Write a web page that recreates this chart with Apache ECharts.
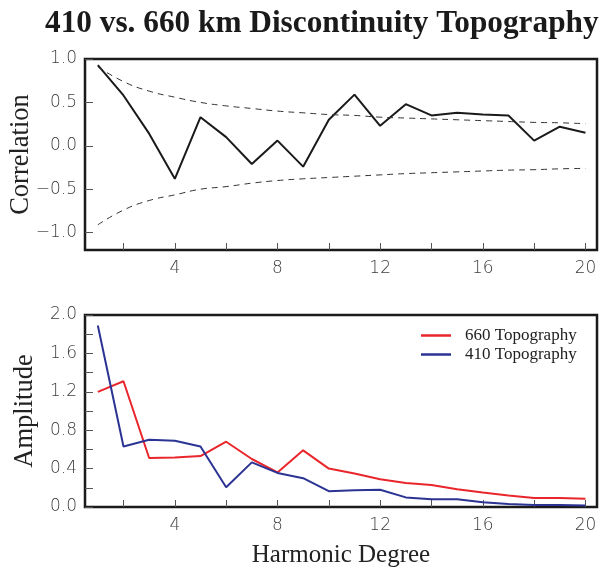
<!DOCTYPE html>
<html>
<head>
<meta charset="utf-8">
<script src="https://cdn.jsdelivr.net/npm/echarts@6/dist/echarts.min.js"></script>
<style>
html,body{margin:0;padding:0;background:#fff;}
#chart{width:609px;height:570px;}
</style>
</head>
<body>
<div id="chart"></div>
<script>
const degrees = [1,2,3,4,5,6,7,8,9,10,11,12,13,14,15,16,17,18,19,20];
const correlation = [0.93,0.58,0.14,-0.38,0.33,0.10,-0.21,0.06,-0.24,0.30,0.59,0.23,0.48,0.35,0.38,0.36,0.35,0.06,0.22,0.15];
const sigUpper = [0.91,0.74,0.63,0.56,0.50,0.46,0.43,0.40,0.38,0.36,0.35,0.33,0.32,0.31,0.30,0.29,0.28,0.27,0.265,0.255];
const sigLower = [-0.91,-0.74,-0.63,-0.565,-0.50,-0.47,-0.43,-0.40,-0.38,-0.365,-0.35,-0.335,-0.32,-0.31,-0.30,-0.29,-0.28,-0.275,-0.265,-0.26];
const amp660 = [1.20,1.31,0.51,0.515,0.53,0.68,0.50,0.36,0.59,0.40,0.35,0.29,0.25,0.23,0.185,0.15,0.12,0.095,0.095,0.085];
const amp410 = [1.89,0.63,0.70,0.69,0.63,0.205,0.465,0.355,0.30,0.165,0.175,0.18,0.10,0.08,0.08,0.05,0.03,0.02,0.022,0.015];
const xTicks = [2,4,6,8,10,12,14,16,18,20];
const xLabels = [4,8,12,16,20];
const corrTicks = [-1.0,-0.5,0.0,0.5,1.0];
const ampTicks = [0.0,0.2,0.4,0.6,0.8,1.0,1.2,1.4,1.6,1.8,2.0];
const ampLabels = [0.0,0.4,0.8,1.2,1.6,2.0];

const pairs = (ys) => degrees.map((d,i)=>[d, ys[i]]);
const labelFont = {fontFamily:'DejaVu Sans', fontWeight:200, fontSize:17, color:'#3c3c3c'};
const fmt = v => v.toFixed(1).replace('-', '\u2212');

function xAxisCfg(gridIndex, showName){
  return {
    type:'value', gridIndex, min:0.5, max:20.45,
    axisLine:{show:false, onZero:false},
    splitLine:{show:false},
    axisTick:{show:true, inside:true, length:7, customValues:xTicks, lineStyle:{color:'#555', width:1}},
    axisLabel:Object.assign({customValues:xLabels, margin:10, formatter:v=>String(v)}, labelFont),
    name: showName ? 'Harmonic Degree' : '',
    nameLocation:'middle', nameGap:36, nameMoveOverlap:false,
    nameTextStyle:{fontFamily:'Liberation Serif', fontSize:25, color:'#222'}
  };
}

const chart = echarts.init(document.getElementById('chart'), null, {renderer:'canvas'});
chart.setOption({
  backgroundColor:'#fff',
  animation:false,
  title:{
    text:'410 vs. 660 km Discontinuity Topography',
    left:40, top:3,
    textStyle:{fontFamily:'Liberation Serif', fontWeight:'bold', fontSize:31.3, color:'#1a1a1a'}
  },
  legend:{
    orient:'vertical', left:421, top:327, padding:0,
    icon:'rect', itemWidth:30, itemHeight:2.5, itemGap:2,
    data:['660 Topography','410 Topography'],
    textStyle:{fontFamily:'Liberation Serif', fontSize:17, color:'#222', padding:[0,0,0,9]}
  },
  grid:[
    {left:85, right:12, top:59, height:191, show:true, borderColor:'#1a1a1a', borderWidth:2.5, containLabel:false, outerBoundsMode:'none'},
    {left:85, right:12, top:315, height:192, show:true, borderColor:'#1a1a1a', borderWidth:2.5, containLabel:false, outerBoundsMode:'none'}
  ],
  xAxis:[ xAxisCfg(0,false), xAxisCfg(1,true) ],
  yAxis:[
    {
      type:'value', gridIndex:0, min:-1.2, max:1.0,
      axisLine:{show:false, onZero:false}, splitLine:{show:false},
      axisTick:{show:true, inside:true, length:8, customValues:corrTicks, lineStyle:{color:'#555', width:1}},
      axisLabel:Object.assign({customValues:corrTicks, margin:8, formatter:fmt}, labelFont),
      name:'Correlation', nameLocation:'middle', nameGap:50, nameRotate:90, nameMoveOverlap:false,
      nameTextStyle:{fontFamily:'Liberation Serif', fontSize:26.5, color:'#222'}
    },
    {
      type:'value', gridIndex:1, min:0, max:2.0,
      axisLine:{show:false, onZero:false}, splitLine:{show:false},
      axisTick:{show:true, inside:true, length:8, customValues:ampTicks, lineStyle:{color:'#555', width:1}},
      axisLabel:Object.assign({customValues:ampLabels, margin:8, formatter:fmt}, labelFont),
      name:'Amplitude', nameLocation:'middle', nameGap:46, nameRotate:90, nameMoveOverlap:false,
      nameTextStyle:{fontFamily:'Liberation Serif', fontSize:26.5, color:'#222'}
    }
  ],
  series:[
    {name:'Correlation', type:'line', xAxisIndex:0, yAxisIndex:0, data:pairs(correlation), symbol:'none',
     lineStyle:{color:'#1a1a1a', width:2}, z:3},
    {name:'upper', type:'line', xAxisIndex:0, yAxisIndex:0, data:pairs(sigUpper), symbol:'none', smooth:true,
     lineStyle:{color:'#333', width:1, type:[6,5]}},
    {name:'lower', type:'line', xAxisIndex:0, yAxisIndex:0, data:pairs(sigLower), symbol:'none', smooth:true,
     lineStyle:{color:'#333', width:1, type:[6,5]}},
    {name:'660 Topography', type:'line', xAxisIndex:1, yAxisIndex:1, data:pairs(amp660), symbol:'none',
     itemStyle:{color:'#e8262b'}, lineStyle:{color:'#e8262b', width:2}},
    {name:'410 Topography', type:'line', xAxisIndex:1, yAxisIndex:1, data:pairs(amp410), symbol:'none',
     itemStyle:{color:'#2b3393'}, lineStyle:{color:'#2b3393', width:2}}
  ]
});
</script>
</body>
</html>
